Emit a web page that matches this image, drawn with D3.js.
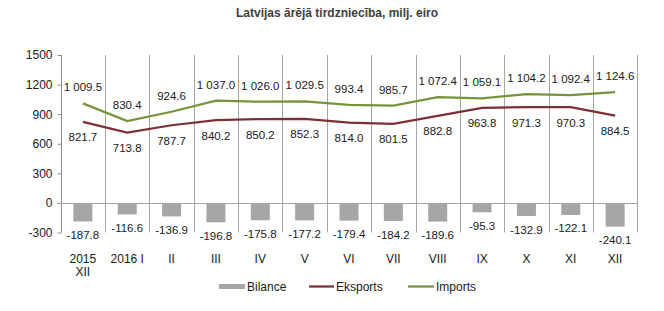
<!DOCTYPE html>
<html>
<head>
<meta charset="utf-8">
<script src="https://cdn.jsdelivr.net/npm/d3@7"></script>
<style>
  body { margin: 0; background: #fff; }
  text { font-family: "Liberation Sans", Arial, sans-serif; }
</style>
</head>
<body>
<script>
// chart values
var months = ["2015 XII", "2016 I", "II", "III", "IV", "V", "VI", "VII", "VIII", "IX", "X", "XI", "XII"];
var bilance = [-187.8, -116.6, -136.9, -196.8, -175.8, -177.2, -179.4, -184.2, -189.6, -95.3, -132.9, -122.1, -240.1];
var eksports = [821.7, 713.8, 787.7, 840.2, 850.2, 852.3, 814.0, 801.5, 882.8, 963.8, 971.3, 970.3, 884.5];
var imports = [1009.5, 830.4, 924.6, 1037.0, 1026.0, 1029.5, 993.4, 985.7, 1072.4, 1059.1, 1104.2, 1092.4, 1124.6];
var yTicks = [-300, 0, 300, 600, 900, 1200, 1500];

var W = 664, H = 311;
// plot area (note: "top" is a reserved window global)
var plotL = 60.7, plotR = 637.3, plotT = 55, plotB = 232.5;

var svg = d3.select("body").append("svg")
    .attr("width", W)
    .attr("height", H);

var x = d3.scaleBand().domain(months).range([plotL, plotR]);
var y = d3.scaleLinear().domain([-300, 1500]).range([plotB, plotT]);

// plain hyphen minus and space as thousands separator, like the original
var locale = d3.formatLocale({decimal: ".", thousands: " ", grouping: [3], currency: ["", ""], minus: "-"});
var fmt = locale.format(",.1f");
var fmtTick = locale.format("d");

svg.append("text")
    .attr("x", 337)
    .attr("y", 17)
    .attr("text-anchor", "middle")
    .attr("font-size", 12)
    .attr("font-weight", "bold")
    .attr("fill", "#404040")
    .text("Latvijas ārējā tirdzniecība, milj. eiro");

// vertical gridlines at category boundaries
svg.append("g")
  .selectAll("line")
    .data(months)
  .enter().append("line")
    .attr("x1", function(d) { return Math.round(x(d) + x.bandwidth()) + 0.5; })
    .attr("x2", function(d) { return Math.round(x(d) + x.bandwidth()) + 0.5; })
    .attr("y1", plotT)
    .attr("y2", plotB)
    .attr("stroke", "#a6a6a6")
    .attr("stroke-width", 1);

// y axis
var yAxis = svg.append("g")
    .attr("transform", "translate(" + (Math.round(plotL) + 0.5) + ",0)")
    .call(d3.axisLeft(y).tickValues(yTicks).tickSize(4).tickPadding(5).tickFormat(fmtTick));
yAxis.select(".domain").attr("stroke", "#8c8c8c").attr("d", "M0," + plotT + "V" + plotB);
yAxis.selectAll(".tick line").attr("stroke", "#8c8c8c");
yAxis.selectAll(".tick text")
    .attr("font-size", 12)
    .attr("fill", "#1a1a1a")
    .style("font-family", "'Liberation Sans', Arial, sans-serif");

// bars
var bw = 19;
svg.append("g")
  .selectAll("rect")
    .data(bilance)
  .enter().append("rect")
    .attr("x", function(d, i) { return x(months[i]) + x.bandwidth() / 2 - bw / 2; })
    .attr("y", y(0))
    .attr("width", bw)
    .attr("height", function(d) { return y(d) - y(0); })
    .attr("fill", "#a6a6a6");

// zero line
svg.append("line")
    .attr("x1", plotL)
    .attr("x2", plotR)
    .attr("y1", Math.round(y(0)) + 0.5)
    .attr("y2", Math.round(y(0)) + 0.5)
    .attr("stroke", "#a6a6a6");

var cx = function(d, i) { return x(months[i]) + x.bandwidth() / 2; };
var line = d3.line().x(cx).y(function(d) { return y(d); });

svg.append("path")
    .datum(eksports)
    .attr("d", line)
    .attr("fill", "none")
    .attr("stroke", "#7b3036")
    .attr("stroke-width", 2.25);

svg.append("path")
    .datum(imports)
    .attr("d", line)
    .attr("fill", "none")
    .attr("stroke", "#77933c")
    .attr("stroke-width", 2.25);

// data labels
function labels(data, dy) {
  svg.append("g")
    .selectAll("text")
      .data(data)
    .enter().append("text")
      .attr("x", cx)
      .attr("y", function(d) { return y(d) + dy; })
      .attr("text-anchor", "middle")
      .attr("font-size", 11.5)
      .attr("fill", "#1a1a1a")
      .text(function(d) { return fmt(d); });
}
labels(imports, -12);
labels(eksports, 19.5);
labels(bilance, 17.5);

// x labels
var xl = svg.append("g")
  .selectAll("text")
    .data(months)
  .enter().append("text")
    .attr("x", function(d) { return x(d) + x.bandwidth() / 2; })
    .attr("y", 263)
    .attr("text-anchor", "middle")
    .attr("font-size", 12)
    .attr("fill", "#1a1a1a");
xl.each(function(d, i) {
  var t = d3.select(this);
  if (i === 0) {
    var parts = d.split(" ");
    t.append("tspan").attr("x", t.attr("x")).text(parts[0]);
    t.append("tspan").attr("x", t.attr("x")).attr("dy", 13).text(parts[1]);
  } else {
    t.text(d);
  }
});

// legend
var lg = svg.append("g").attr("font-size", 12).attr("fill", "#1a1a1a");
lg.append("rect").attr("x", 219).attr("y", 284).attr("width", 26).attr("height", 5).attr("fill", "#a6a6a6");
lg.append("text").attr("x", 247).attr("y", 290.5).text("Bilance");
lg.append("line").attr("x1", 309).attr("x2", 334).attr("y1", 286.5).attr("y2", 286.5).attr("stroke", "#7b3036").attr("stroke-width", 2.25);
lg.append("text").attr("x", 336).attr("y", 290.5).text("Eksports");
lg.append("line").attr("x1", 408).attr("x2", 434).attr("y1", 286.5).attr("y2", 286.5).attr("stroke", "#77933c").attr("stroke-width", 2.25);
lg.append("text").attr("x", 436).attr("y", 290.5).text("Imports");
</script>
</body>
</html>
